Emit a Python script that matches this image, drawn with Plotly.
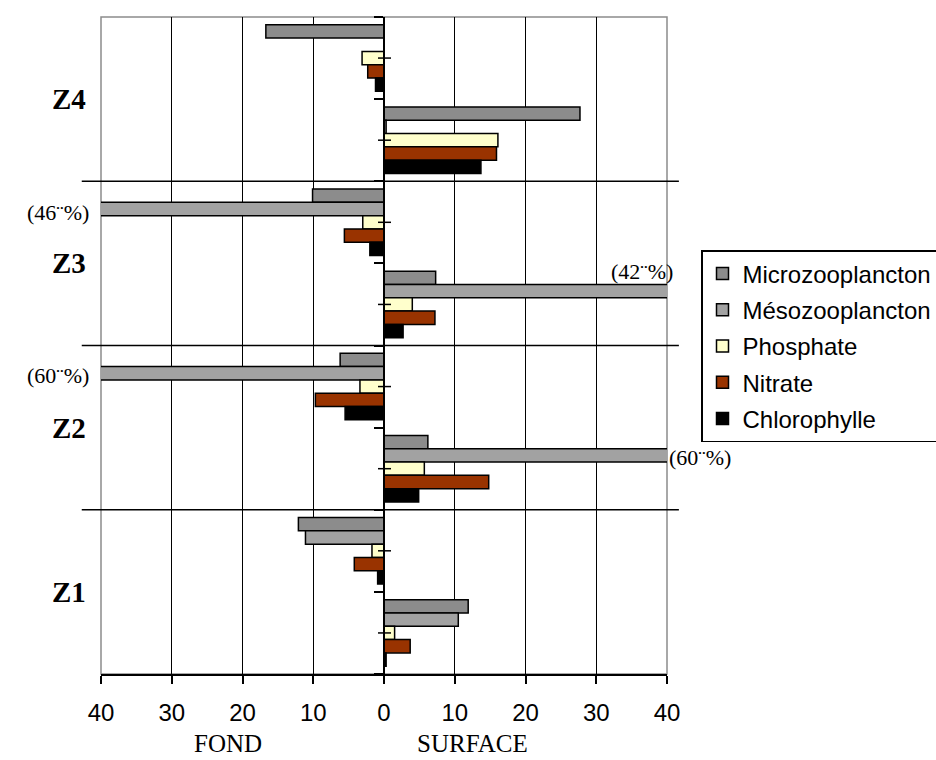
import plotly.graph_objects as go

# Zones from top to bottom; each zone has a FOND (bottom water) and a SURFACE row
zones = ["Z4", "Z3", "Z2", "Z1"]
series_names = ["Microzooplancton", "Mésozooplancton", "Phosphate", "Nitrate", "Chlorophylle"]
series_colors = ["#8c8c8c", "#a2a2a2", "#ffffcc", "#993300", "#000000"]

# Percent values per zone (Z4, Z3, Z2, Z1)
micro_fond = [16.7, 10.1, 6.2, 12.1]
micro_surface = [27.7, 7.3, 6.2, 11.9]
meso_fond = [0.0, 46, 60, 11.1]
meso_surface = [0.3, 42, 60, 10.5]
phos_fond = [3.1, 3.0, 3.4, 1.7]
phos_surface = [16.1, 4.0, 5.7, 1.5]
nit_fond = [2.3, 5.6, 9.7, 4.2]
nit_surface = [15.9, 7.2, 14.8, 3.7]
chl_fond = [1.2, 2.0, 5.5, 0.9]
chl_surface = [13.7, 2.7, 4.9, 0.3]

x_ticks = [-40, -30, -20, -10, 0, 10, 20, 30, 40]
x_tick_labels = [str(abs(v)) for v in x_ticks]

fond_values = [micro_fond, meso_fond, phos_fond, nit_fond, chl_fond]
surface_values = [micro_surface, meso_surface, phos_surface, nit_surface, chl_surface]

BARGAP = 0.19
n_rows = 2 * len(zones)
rows = list(range(n_rows))

fig = go.Figure()
for name, color, fond, surf in zip(series_names, series_colors, fond_values, surface_values):
    xs = []
    for f, s in zip(fond, surf):
        xs += [-f, s]  # FOND plotted to the left, SURFACE to the right
    fig.add_trace(go.Bar(
        orientation="h", x=xs, y=rows, name=name, legendgroup=name,
        marker=dict(color=color, line=dict(color="black", width=1.5)),
    ))

serif = "Liberation Serif, Times New Roman, serif"
sans = "Liberation Sans, Arial, sans-serif"

# Offset of a series bar inside its row (rows run top to bottom)
bar_h = (1 - BARGAP) / len(series_names)
def bar_center(row, series_idx):
    return row - (1 - BARGAP) / 2 + bar_h * (series_idx + 0.5)

annotations = []
for i, z in enumerate(zones):
    annotations.append(dict(
        text=f"<b>{z}</b>", xref="paper", yref="y", x=-0.057, y=2 * i + 0.5,
        showarrow=False, xanchor="center", yanchor="middle",
        font=dict(family=serif, size=29, color="black"),
    ))

annotations += [
    dict(text="FOND", xref="x", yref="paper", x=-22, y=-0.13, showarrow=False,
         font=dict(family=serif, size=25, color="black")),
    dict(text="SURFACE", xref="x", yref="paper", x=12.5, y=-0.13, showarrow=False,
         font=dict(family=serif, size=25, color="black")),
]

label_font = dict(family=serif, size=22, color="black")
# Mésozooplancton bars that run past the axis range get their value written out
annotations += [
    dict(text=f"({meso_fond[1]}¨%)", xref="paper", yref="y", x=-0.018,
         y=bar_center(2, 1), xanchor="right", yanchor="middle", showarrow=False,
         yshift=-3, font=label_font),
    dict(text=f"({meso_surface[1]}¨%)", xref="x", yref="y", x=40,
         y=bar_center(3, 0), xanchor="right", yanchor="middle", showarrow=False,
         xshift=8, yshift=6, font=label_font),
    dict(text=f"({meso_fond[2]}¨%)", xref="paper", yref="y", x=-0.018,
         y=bar_center(4, 1), xanchor="right", yanchor="middle", showarrow=False,
         yshift=-2, font=label_font),
    dict(text=f"({meso_surface[2]}¨%)", xref="x", yref="y", x=40,
         y=bar_center(5, 1), xanchor="left", yanchor="middle", showarrow=False,
         yshift=-2, font=label_font),
]

shapes = [
    # plot-area frame
    dict(type="rect", xref="paper", yref="paper", x0=0, x1=1, y0=0, y1=1,
         line=dict(color="#8c8c8c", width=1.5), layer="between"),
]
# zone separators, overhanging the plot area on both sides
for b in [1.5, 3.5, 5.5]:
    shapes.append(dict(type="line", xref="paper", yref="y", x0=-0.034, x1=1.021,
                       y0=b, y1=b, line=dict(color="black", width=1.5)))
# small crossing ticks at each row centre on the zero axis
for r in rows:
    shapes.append(dict(type="line", xref="x", xsizemode="pixel", xanchor=0,
                       x0=-6, x1=7, yref="y", y0=r, y1=r,
                       line=dict(color="black", width=1.5)))

fig.update_layout(
    width=936, height=760,
    margin=dict(l=101, r=269, t=17, b=86, autoexpand=False),
    paper_bgcolor="white", plot_bgcolor="white",
    barmode="group", bargap=BARGAP, bargroupgap=0,
    showlegend=True,
    legend=dict(
        x=(701 - 101) / 566, y=(674 - 250) / 657, xanchor="left", yanchor="top",
        bgcolor="white", bordercolor="black", borderwidth=1.5,
        font=dict(family=sans, size=24, color="black"),
        tracegroupgap=2, traceorder="grouped",
    ),
    xaxis=dict(
        range=[-40, 40], tickvals=x_ticks, ticktext=x_tick_labels,
        showgrid=True, gridcolor="black", gridwidth=1, zeroline=False,
        showline=True, linecolor="black", linewidth=1.5,
        ticks="outside", ticklen=8, tickwidth=1.5, tickcolor="black",
        tickfont=dict(family=sans, size=24, color="black"),
        ticklabelstandoff=8,
        fixedrange=True,
    ),
    yaxis=dict(
        range=[n_rows - 0.5, -0.5], anchor="free", position=0.5,
        tickvals=[r - 0.5 for r in rows] + [n_rows - 0.5],
        showticklabels=False, showgrid=False, zeroline=False,
        showline=True, linecolor="black", linewidth=2,
        ticks="outside", ticklen=9, tickwidth=1.5, tickcolor="black",
        fixedrange=True,
    ),
    annotations=annotations,
    shapes=shapes,
)

fig.write_html("out.html")
